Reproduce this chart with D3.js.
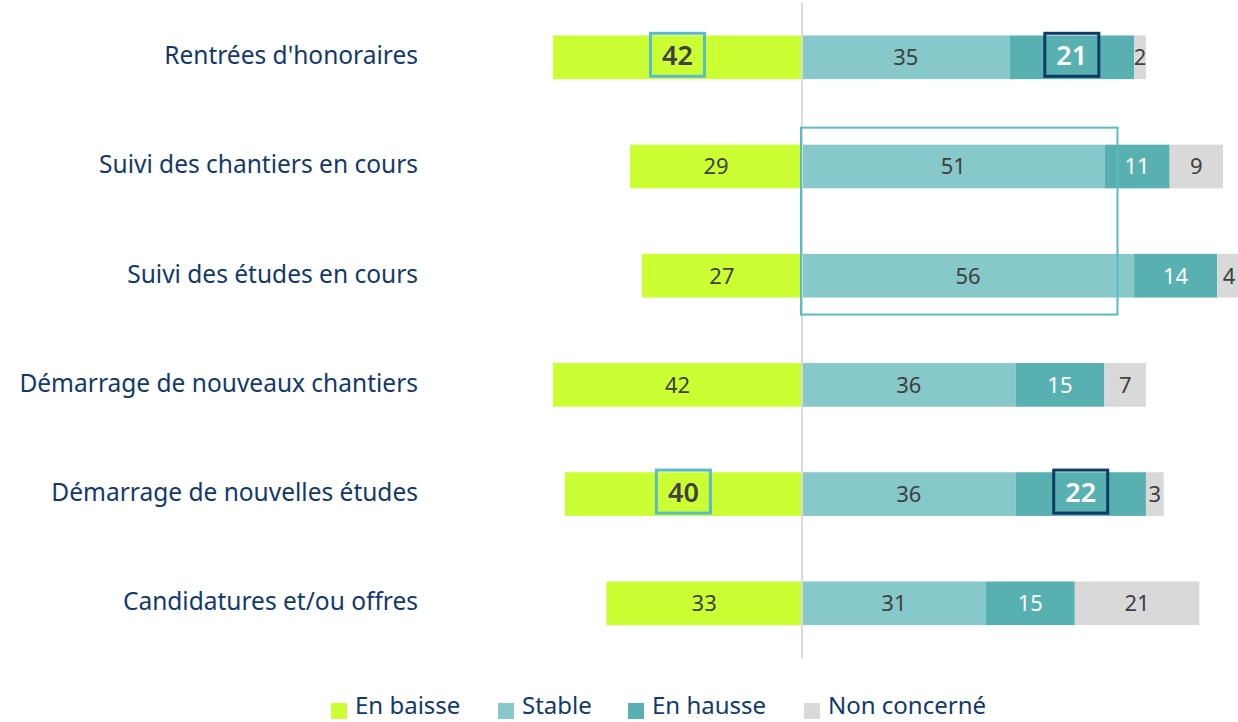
<!DOCTYPE html>
<html><head><meta charset="utf-8">
<script src="https://cdn.jsdelivr.net/npm/d3@7"></script>
<style>body{margin:0;background:#fff}svg{display:block}text{font-family:"Noto Sans",sans-serif}</style>
</head><body><svg id="c" width="1238" height="722"></svg>
<script>
const categories = ["Rentrées d'honoraires","Suivi des chantiers en cours","Suivi des études en cours","Démarrage de nouveaux chantiers","Démarrage de nouvelles études","Candidatures et/ou offres"];
const enBaisse   = [42, 29, 27, 42, 40, 33];
const stable     = [35, 51, 56, 36, 36, 31];
const enHausse   = [21, 11, 14, 15, 22, 15];
const nonConcerne= [2, 9, 4, 7, 3, 21];
const seriesNames = ["En baisse","Stable","En hausse","Non concerné"];
const colors = ["#CCFF33","#87C9CA","#58B0B1","#D9D9D9"];
const labelColors = ["#404040","#404040","#ffffff","#404040"];
// highlighted labels: [category index, series index, border colour]
const highlights = [[0,0,"#5BBCC8"],[0,2,"#0E3A66"],[4,0,"#5BBCC8"],[4,2,"#0E3A66"]];
const boxedCategories = [1,2];

const svg = d3.select("#c");
const x = d3.scaleLinear().domain([0,100]).range([802,802+593]);
const y = d3.scaleBand().domain(categories).range([2.7,657.9]).paddingInner(0.6).paddingOuter(0.3);

const data = categories.map((c,i)=>{
  const vals=[enBaisse[i],stable[i],enHausse[i],nonConcerne[i]];
  const segs=[{s:0,v:vals[0],x0:-vals[0],x1:0}];
  let acc=0;
  for(let k=1;k<4;k++){segs.push({s:k,v:vals[k],x0:acc,x1:acc+vals[k]});acc+=vals[k];}
  return {c,i,segs};
});

const g = svg.append("g");
data.forEach(d=>{
  d.segs.forEach(s=>{
    g.append("rect").attr("x",x(s.x0)).attr("y",y(d.c)).attr("width",x(s.x1)-x(s.x0))
      .attr("height",y.bandwidth()).attr("fill",colors[s.s]);
  });
});
// center line
svg.append("line").attr("x1",x(0)).attr("x2",x(0)).attr("y1",y.range()[0]).attr("y2",y.range()[1])
  .attr("stroke","#D9D9D9").attr("stroke-width",2);

// labels
data.forEach(d=>{
  d.segs.forEach(s=>{
    const hl = highlights.find(h=>h[0]===d.i&&h[1]===s.s);
    const cx=(x(s.x0)+x(s.x1))/2, cy=y(d.c)+y.bandwidth()/2;
    if(hl){
      svg.append("rect").attr("x",cx-27).attr("y",cy-24).attr("width",54).attr("height",43)
        .attr("fill","none").attr("stroke",hl[2]).attr("stroke-width",3);
    }
    svg.append("text").attr("x",cx).attr("y",hl?cy-2:cy).attr("dy","0.36em").attr("text-anchor","middle")
      .attr("font-size",hl?27:22).attr("font-weight",hl?"600":"normal")
      .attr("fill",labelColors[s.s]).text(s.v);
  });
});

// outline box around stable of rows 2-3
const b0=y(categories[boxedCategories[0]]), b1=y(categories[boxedCategories[1]])+y.bandwidth();
svg.append("rect").attr("x",x(0)-1).attr("y",b0-17).attr("width",x(53.2)-x(0)+1).attr("height",b1-b0+34)
  .attr("fill","none").attr("stroke","#5BBCC0").attr("stroke-width",2);

// category labels
svg.append("g").selectAll("text").data(categories).join("text")
  .attr("x",418).attr("y",d=>y(d)+y.bandwidth()/2-1).attr("dy","0.32em").attr("text-anchor","end")
  .attr("font-size",24.5).attr("fill","#12396B").text(d=>d);

// legend
const legX=[331,498,628,804];
const leg = svg.append("g");
seriesNames.forEach((n,k)=>{
  leg.append("rect").attr("x",legX[k]).attr("y",703).attr("width",16).attr("height",16).attr("fill",colors[k]);
  leg.append("text").attr("x",legX[k]+24).attr("y",706).attr("dy","0.35em").attr("font-size",24)
    .attr("fill","#12396B").text(n);
});
</script></body></html>
